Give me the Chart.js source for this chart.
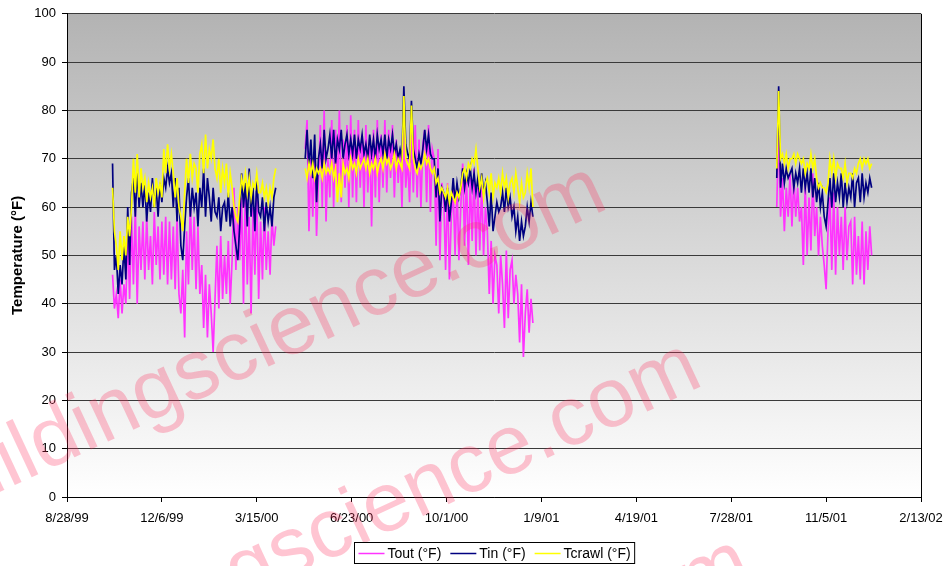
<!DOCTYPE html>
<html>
<head>
<meta charset="utf-8">
<title>Temperature</title>
<script src="https://cdn.jsdelivr.net/npm/chart.js@4.4.1/dist/chart.umd.min.js"></script>
<style>
    html, body { margin: 0; padding: 0; background: #fff; }
</style>
</head>
<body>
<canvas id="chart1" width="947" height="566"></canvas>
<script>
// x values are Excel day serials (36400 = 8/28/99), one reading every 2 days
var stepDays = 2;
var xMin = 36400;
var xMax = 37300;
var xStep = 100;
var tickDates = ['8/28/99', '12/6/99', '3/15/00', '6/23/00', '10/1/00', '1/9/01', '4/19/01', '7/28/01', '11/5/01', '2/13/02'];
var seriesNames = ['Tout (°F)', 'Tin (°F)', 'Tcrawl (°F)'];

// first logging period, fall 1999 - spring 2000
var seg1Start = 36448;
var toutSeg1 = [46, 39, 42, 37, 45, 38, 44, 40, 55, 41, 58, 44, 60, 40, 56, 47,
    57, 45, 58, 47, 54, 44, 59, 48, 56, 45, 57, 46, 58, 44, 57, 45, 56, 43, 58, 42,
    38, 47, 33, 55, 44, 61, 47, 58, 43, 56, 42, 48, 35, 46, 33, 44, 38, 30, 41,
    52, 39, 54, 41, 50, 42, 53, 40, 49, 64, 47, 60, 49,
    62, 40, 65, 44, 58, 38, 60, 46, 63, 41, 57, 45, 60, 47, 55, 46, 58, 52, 56];
var tinSeg1 = [69, 47, 50, 42, 48, 44, 52, 45, 60, 48, 63, 66, 58, 68, 60, 65,
    60, 65, 57, 63, 59, 66, 60, 64, 58, 65, 61, 66, 64, 68, 65, 67, 60, 66, 57, 64,
    52, 49, 56, 62, 66, 58, 64, 60, 63, 56, 64, 60, 68, 58, 66, 62, 57, 64, 59,
    58, 62, 55, 60, 61, 57, 63, 56, 60, 55, 52, 49, 56,
    67, 60, 65, 56, 68, 58, 64, 55, 66, 59, 58, 62, 55, 61, 57, 60, 56, 62, 64];
var tcrawlSeg1 = [64, 55, 52, 47, 55, 49, 54, 50, 58, 54, 60, 70, 63, 71, 62, 68,
    64, 66, 61, 65, 62, 64, 60, 66, 63, 65, 62, 72, 67, 73, 68, 71, 67, 62, 66, 60,
    58, 55, 63, 70, 65, 71, 66, 69, 68, 63, 71, 73, 67, 75, 68, 72, 70, 74, 68,
    66, 70, 63, 68, 65, 69, 62, 67, 64, 60, 58, 57, 62,
    66, 64, 67, 63, 66, 62, 65, 64, 67, 63, 63, 65, 62, 64, 61, 64, 62, 66, 68];

// second logging period, spring 2000 - winter 2001
var seg2Start = 36651;
var toutSeg2 = [72, 78, 55, 70, 58, 72, 54, 66, 77, 60, 80, 57, 70,
    62, 78, 60, 76, 63, 80, 61, 74, 64, 77, 60, 79, 62, 76, 61, 78, 64, 75, 60,
    77, 63, 74, 56, 76, 62, 78, 61, 75, 64, 78, 63, 76, 66, 77, 62, 74, 65,
    72, 60, 76, 64, 70, 61, 75, 63, 77, 62, 74, 60, 73, 76, 61, 77, 59, 72,
    70, 52, 72, 49, 65, 62, 47, 65, 45, 58, 64, 50, 65, 49, 60,
    69, 52, 67, 48, 66, 53, 68, 50, 64, 51, 65, 50, 60, 55, 42, 53, 40, 50,
    48, 38, 50, 44, 35, 51, 37, 47, 49, 40, 46, 42, 32, 44, 29, 38, 43, 34, 41, 36];
var tinSeg2 = [70, 76, 68, 74, 66, 75, 61, 70, 73, 68, 76, 70, 72,
    75, 70, 76, 69, 74, 72, 76, 70, 73, 75, 71, 74, 71, 75, 70, 74, 72, 75, 71,
    73, 70, 75, 71, 74, 70, 75, 72, 74, 71, 75, 70, 74, 72, 75, 71, 73, 70,
    72, 70, 85, 73, 71, 70, 82, 72, 70, 68, 71, 69, 72, 76, 72, 75, 71, 70,
    70, 62, 68, 57, 64, 63, 59, 64, 57, 61, 66, 61, 65, 62, 64,
    68, 64, 67, 65, 68, 64, 67, 63, 66, 62, 67, 63, 65, 61, 56, 63, 55, 58,
    61, 59, 60, 63, 59, 64, 60, 62, 58, 60, 55, 58, 53, 57, 54, 56, 60, 57, 61, 58];
var tcrawlSeg2 = [68, 66, 69, 67, 69, 66, 68, 67, 68, 66, 69, 67, 68,
    67, 69, 66, 68, 61, 67, 62, 69, 67, 68, 66, 70, 68, 69, 67, 70, 68, 69, 70,
    68, 70, 67, 69, 68, 70, 67, 69, 70, 68, 71, 69, 70, 68, 69, 71, 68, 70,
    69, 68, 83, 70, 69, 68, 81, 70, 68, 67, 69, 68, 69, 71, 69, 70, 68, 67,
    68, 65, 66, 63, 64, 63, 62, 64, 61, 63, 62, 61, 63, 62, 64,
    67, 68, 66, 69, 68, 70, 69, 72, 68, 64, 66, 62, 65, 66, 63, 67, 62, 65,
    64, 66, 63, 67, 64, 66, 62, 65, 66, 63, 67, 64, 61, 65, 62, 63, 67, 64, 68, 60];

// third logging period, fall 2001
var seg3Start = 37148;
var toutSeg3 = [60, 77, 58, 66, 55, 64, 58, 67, 56, 66, 58, 64, 57, 60, 48, 65, 50, 62,
    51, 67, 54, 60, 50, 58, 52, 48, 43, 55, 62, 47, 63, 46, 60, 50,
    58, 47, 60, 49, 56, 57, 44, 58, 46, 54, 45, 57, 44, 55, 47, 56, 50];
var tinSeg3 = [66, 85, 64, 69, 65, 68, 66, 67, 68, 64, 67, 65, 68, 63, 68, 64, 67, 63,
    68, 62, 66, 61, 65, 60, 63, 58, 56, 61, 66, 60, 67, 61, 65, 62,
    67, 60, 65, 61, 64, 62, 67, 60, 65, 66, 61, 67, 62, 65, 63, 66, 64];
var tcrawlSeg3 = [68, 84, 70, 71, 69, 71, 68, 70, 70, 71, 69, 71, 70, 69, 70, 67, 69, 68,
    71, 68, 70, 66, 64, 65, 64, 64, 63, 65, 70, 67, 70, 66, 69, 68,
    68, 66, 69, 65, 67, 67, 66, 68, 67, 69, 70, 68, 70, 69, 70, 68, 69];

// join the logging periods, with a gap between them
function buildPoints(starts, parts) {
    var pts = [];
    parts.forEach(function (vals, s) {
        if (s > 0) pts.push({ x: starts[s] - 1, y: null });
        vals.forEach(function (v, i) {
            pts.push({ x: starts[s] + i * stepDays, y: v });
        });
    });
    return pts;
}

var segStarts = [seg1Start, seg2Start, seg3Start];
var FONT = 'Arial, "Liberation Sans", sans-serif';

// grey-to-white plot background
var plotBackground = {
    id: 'plotBackground',
    beforeDraw: function (chart) {
        var ctx = chart.ctx, a = chart.chartArea;
        ctx.save();
        ctx.fillStyle = '#ffffff';
        ctx.fillRect(0, 0, chart.width, chart.height);
        var g = ctx.createLinearGradient(0, a.top, 0, a.bottom);
        g.addColorStop(0, '#b3b3b3');
        g.addColorStop(1, '#ffffff');
        ctx.fillStyle = g;
        ctx.fillRect(a.left, a.top, a.right - a.left, a.bottom - a.top);
        ctx.restore();
    }
};

// faint site watermark
var watermark = {
    id: 'watermark',
    afterDatasetsDraw: function (chart) {
        var ctx = chart.ctx;
        var spots = [[-75, 527], [20, 704], [70, 900]];
        ctx.save();
        ctx.font = '84px ' + FONT;
        ctx.fillStyle = 'rgba(255, 40, 90, 0.27)';
        ctx.textBaseline = 'alphabetic';
        spots.forEach(function (p) {
            ctx.save();
            ctx.translate(p[0], p[1]);
            ctx.rotate(-25 * Math.PI / 180);
            ctx.fillText('buildingscience.com', 0, 0);
            ctx.restore();
        });
        ctx.restore();
    }
};

// boxed legend under the plot, centred on the plot area
var boxLegend = {
    id: 'boxLegend',
    afterDraw: function (chart) {
        var ctx = chart.ctx, a = chart.chartArea;
        var colors = chart.data.datasets.map(function (d) { return d.borderColor; });
        ctx.save();
        ctx.font = '14px ' + FONT;
        var lineLen = 26, gap = 3, between = 9, pad = 4;
        var total = 0;
        seriesNames.forEach(function (n, i) {
            total += lineLen + gap + ctx.measureText(n).width + (i < seriesNames.length - 1 ? between : 0);
        });
        var boxW = total + pad * 2, boxH = 21;
        var left = Math.round((a.left + a.right) / 2 - boxW / 2) + 0.5;
        var top = 542.5;
        ctx.fillStyle = '#fff';
        ctx.fillRect(left, top, boxW, boxH);
        ctx.strokeStyle = '#000';
        ctx.lineWidth = 1;
        ctx.strokeRect(left, top, boxW, boxH);
        var x = left + pad, cy = top + boxH / 2 + 0.5;
        ctx.textBaseline = 'middle';
        seriesNames.forEach(function (n, i) {
            ctx.strokeStyle = colors[i];
            ctx.lineWidth = 1.5;
            ctx.beginPath();
            ctx.moveTo(x, cy);
            ctx.lineTo(x + lineLen, cy);
            ctx.stroke();
            x += lineLen + gap;
            ctx.fillStyle = '#000';
            ctx.fillText(n, x, cy + 1);
            x += ctx.measureText(n).width + between;
        });
        ctx.restore();
    }
};

var ctx1 = document.getElementById('chart1').getContext('2d');

new Chart(ctx1, {
    type: 'line',
    data: {
        datasets: [{
            label: seriesNames[0],
            data: buildPoints(segStarts, [toutSeg1, toutSeg2, toutSeg3]),
            borderColor: '#ff33ff',
            order: 3
        }, {
            label: seriesNames[1],
            data: buildPoints(segStarts, [tinSeg1, tinSeg2, tinSeg3]),
            borderColor: '#000080',
            order: 2
        }, {
            label: seriesNames[2],
            data: buildPoints(segStarts, [tcrawlSeg1, tcrawlSeg2, tcrawlSeg3]),
            borderColor: '#ffff00',
            order: 1
        }]
    },
    options: {
        responsive: false,
        animation: false,
        spanGaps: false,
        elements: {
            line: { borderWidth: 1.7, tension: 0, fill: false },
            point: { radius: 0, hoverRadius: 0 }
        },
        layout: { padding: { top: 13, right: 26, left: 0, bottom: 0 } },
        plugins: {
            legend: { display: false },
            tooltip: { enabled: false }
        },
        scales: {
            x: {
                type: 'linear',
                min: xMin,
                max: xMax,
                ticks: {
                    stepSize: xStep,
                    autoSkip: false,
                    maxRotation: 0,
                    padding: 9,
                    color: '#000',
                    font: { family: FONT, size: 13 },
                    callback: function (v) {
                        return tickDates[Math.round((v - xMin) / xStep)];
                    }
                },
                grid: {
                    color: function (c) {
                        return c.tick && c.tick.value === xMax ? '#000' : 'rgba(0,0,0,0)';
                    },
                    tickColor: '#000',
                    tickLength: 5
                },
                border: { color: '#000' },
                afterFit: function (s) {
                    s.height = 69;
                    s.paddingLeft = 0;
                    s.paddingRight = 0;
                }
            },
            y: {
                min: 0,
                max: 100,
                ticks: {
                    stepSize: 10,
                    padding: 6,
                    color: '#000',
                    font: { family: FONT, size: 13 }
                },
                grid: { color: '#3a3a3a', tickColor: '#000', tickLength: 5 },
                border: { color: '#000' },
                title: {
                    display: true,
                    text: 'Temperature (°F)',
                    color: '#000',
                    font: { family: FONT, size: 15, weight: 'bold' },
                    padding: { top: 9, bottom: 0 }
                },
                afterFit: function (s) { s.width = 67; }
            }
        }
    },
    plugins: [plotBackground, watermark, boxLegend]
});
</script>
</body>
</html>
